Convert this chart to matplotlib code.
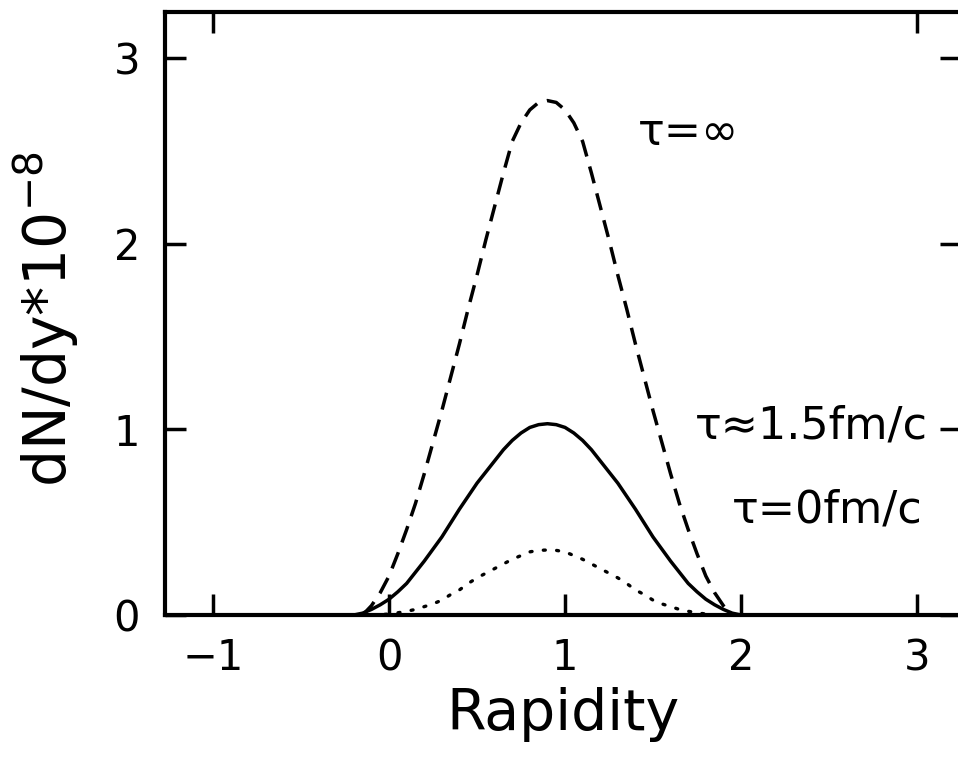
import matplotlib
matplotlib.use("Agg")
import matplotlib.pyplot as plt

# ---- data (rapidity, dN/dy * 1e-8) ----
x_inf = [-0.15, -0.10, -0.05, 0.00, 0.05, 0.10, 0.15, 0.20, 0.25, 0.30, 0.35, 0.40, 0.45,
         0.50, 0.55, 0.60, 0.65, 0.70, 0.75, 0.80, 0.85, 0.90, 0.95, 1.00, 1.05, 1.10,
         1.15, 1.20, 1.25, 1.30, 1.35, 1.40, 1.45, 1.50, 1.55, 1.60, 1.65, 1.70, 1.75,
         1.80, 1.85, 1.90, 1.95]
y_inf = [0.0, 0.05, 0.12, 0.21, 0.33, 0.46, 0.60, 0.76, 0.93, 1.10, 1.28, 1.46, 1.65,
         1.83, 2.02, 2.20, 2.38, 2.55, 2.65, 2.72, 2.76, 2.77, 2.76, 2.72, 2.65, 2.55,
         2.38, 2.20, 2.02, 1.83, 1.65, 1.46, 1.28, 1.10, 0.93, 0.76, 0.60, 0.46, 0.33,
         0.21, 0.12, 0.05, 0.0]

x_15 = [-0.20, -0.15, -0.10, -0.05, 0.00, 0.05, 0.10, 0.15, 0.20, 0.25, 0.30, 0.35, 0.40,
        0.45, 0.50, 0.55, 0.60, 0.65, 0.70, 0.75, 0.80, 0.85, 0.90, 0.95, 1.00, 1.05,
        1.10, 1.15, 1.20, 1.25, 1.30, 1.35, 1.40, 1.45, 1.50, 1.55, 1.60, 1.65, 1.70,
        1.75, 1.80, 1.85, 1.90, 1.95, 2.00]
y_15 = [0.0, 0.01, 0.03, 0.055, 0.085, 0.125, 0.17, 0.23, 0.29, 0.355, 0.42, 0.495, 0.57,
        0.64, 0.71, 0.77, 0.83, 0.89, 0.94, 0.98, 1.01, 1.025, 1.03, 1.025, 1.01, 0.98,
        0.94, 0.89, 0.83, 0.77, 0.71, 0.64, 0.57, 0.495, 0.42, 0.355, 0.29, 0.23, 0.17,
        0.125, 0.085, 0.055, 0.03, 0.01, 0.0]

x_0 = [-0.10, -0.05, 0.00, 0.05, 0.10, 0.15, 0.20, 0.25, 0.30, 0.35, 0.40, 0.45, 0.50,
       0.55, 0.60, 0.65, 0.70, 0.75, 0.80, 0.85, 0.90, 0.95, 1.00, 1.05, 1.10, 1.15,
       1.20, 1.25, 1.30, 1.35, 1.40, 1.45, 1.50, 1.55, 1.60, 1.65, 1.70, 1.75, 1.80,
       1.85, 1.90]
y_0 = [0.0, 0.002, 0.005, 0.012, 0.02, 0.03, 0.045, 0.06, 0.08, 0.11, 0.135, 0.17, 0.20,
       0.225, 0.25, 0.275, 0.30, 0.32, 0.34, 0.348, 0.35, 0.348, 0.34, 0.32, 0.30, 0.275,
       0.25, 0.225, 0.20, 0.17, 0.135, 0.11, 0.08, 0.06, 0.045, 0.03, 0.02, 0.012, 0.005,
       0.002, 0.0]

x_ticks = [-1, 0, 1, 2, 3]
y_ticks = [0, 1, 2, 3]

labels = ["τ=∞", "τ≈1.5fm/c", "τ=0fm/c"]
label_pos = [(1.70, 2.60), (2.40, 1.02), (2.49, 0.565)]

plt.rcParams['font.family'] = ['DejaVu Sans']

fig = plt.figure(figsize=(9.58, 7.71), dpi=100)
ax = fig.add_axes([165/958, 1-615/771, (961-165)/958, (615-12)/771])

ax.plot(x_inf, y_inf, color='black', lw=2.5, linestyle=(0, (5, 3)))
ax.plot(x_15, y_15, color='black', lw=2.5, linestyle='-')
ax.plot(x_0, y_0, color='black', lw=2.4, linestyle=(0, (0.6, 3.4)), dash_capstyle='round')

ax.set_xlim(-1.273, 3.25)
ax.set_ylim(0, 3.247)
ax.set_xticks(x_ticks)
ax.set_yticks(y_ticks)
ax.set_xticklabels(['\u22121' if v < 0 else str(v) for v in x_ticks])

for s in ax.spines.values():
    s.set_linewidth(3)

ax.tick_params(axis='both', direction='in', length=15, width=2.5, labelsize=30)
ax.tick_params(axis='x', pad=16)
ax.tick_params(axis='y', pad=18, right=True)

sec = ax.secondary_xaxis('top')
sec.set_xticks([-1, 3])
sec.tick_params(direction='in', length=15, width=2.5, labeltop=False)
sec.spines['top'].set_visible(False)

for t, (px, py) in zip(labels, label_pos):
    ax.text(px, py, t, fontsize=32, ha='center', va='center')

ax.set_xlabel('Rapidity', fontsize=41)
ax.xaxis.set_label_coords(0.5, -0.12)
ax.set_ylabel('dN/dy*10$^{-8}$', fontsize=42)
ax.yaxis.set_label_coords(-0.105, 0.49)

fig.savefig('out.png', dpi=100)
